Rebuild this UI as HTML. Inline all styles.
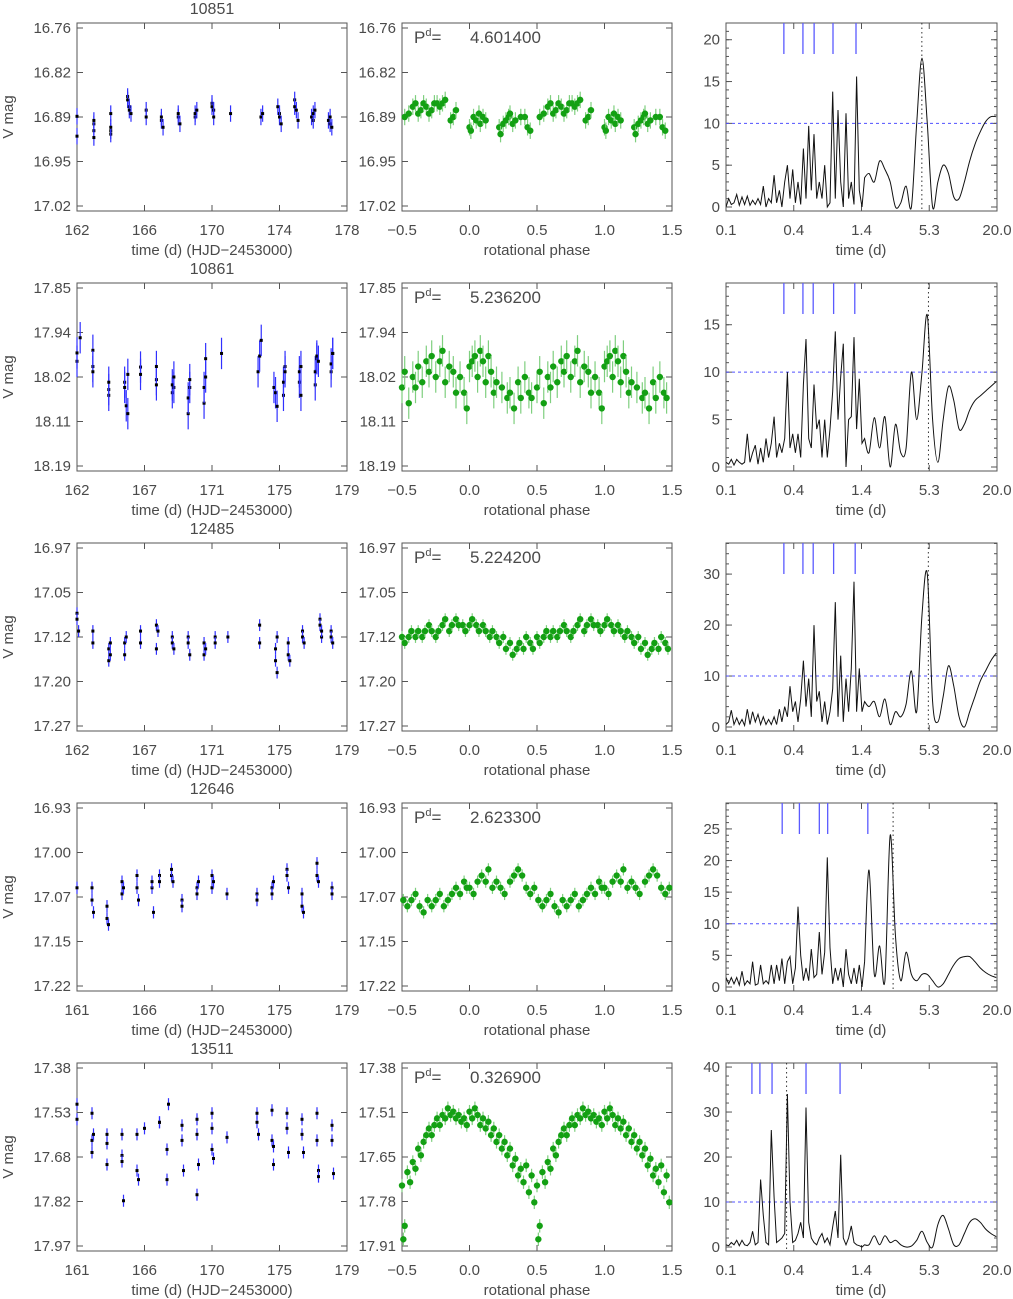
<!DOCTYPE html>
<html><head><meta charset="utf-8"><style>
html,body{margin:0;padding:0;background:#fff;}
svg{display:block;font-family:"Liberation Sans",sans-serif;}
</style></head><body>
<svg id="fig" width="1013" height="1299" viewBox="0 0 1013 1299" xmlns="http://www.w3.org/2000/svg"></svg>
<script>
// ---------- data ----------
const starIds = ["10851","10861","12485","12646","13511"];
const periods = [4.601400, 5.236200, 5.224200, 2.623300, 0.326900];
const periodLabels = ["4.601400","5.236200","5.224200","2.623300","0.326900"];
const timeRanges = [[162,178],[162,179],[162,179],[161,179],[161,179]];
const timeTicks = [["162","166","170","174","178"],["162","167","171","175","179"],["162","167","171","175","179"],["161","166","170","175","179"],["161","166","170","175","179"]];
const magRangesLc = [[16.76,17.02],[17.85,18.19],[16.97,17.27],[16.93,17.22],[17.38,17.97]];
const magTicksLc = [["16.76","16.82","16.89","16.95","17.02"],["17.85","17.94","18.02","18.11","18.19"],["16.97","17.05","17.12","17.20","17.27"],["16.93","17.00","17.07","17.15","17.22"],["17.38","17.53","17.68","17.82","17.97"]];
const magRangesPh = [[16.76,17.02],[17.85,18.19],[16.97,17.27],[16.93,17.22],[17.38,17.91]];
const magTicksPh = [["16.76","16.82","16.89","16.95","17.02"],["17.85","17.94","18.02","18.11","18.19"],["16.97","17.05","17.12","17.20","17.27"],["16.93","17.00","17.07","17.15","17.22"],["17.38","17.51","17.65","17.78","17.91"]];
const phaseTicks = ["-0.5","0.0","0.5","1.0","1.5"];
const errMag = [0.012,0.03,0.01,0.01,0.02];

const lcTime = [
[162,162,163,163,163,163,164,164,164,164,165,165,165.1,165.1,165.2,166.1,166.1,167,167,167.1,168,168,168.1,169,169,169.1,170,170,170.1,170.1,171.1,172.9,173,173.9,174,174,174.1,174.9,174.9,175,175.1,175.9,176,176,176.1,176.9,177,177,177.1],
[162,162,162.2,163,163,163,164,164,164,165,165,165.1,165.2,165.2,166,166,167,167,167,168,168,168.1,168.1,169,169,169.1,169.1,170,170,170.1,170.1,171.1,173.4,173.5,173.6,174.4,174.5,174.6,175,175,175.1,175.1,176,176,176.1,176.1,177,177,177.1,177.1,177.2,178,178,178.1,178.1],
[162,162,162.1,163,163,164,164,164.1,164.1,165,165,165.1,166,166,167,167,167.1,168,168,168.1,169,169,169.1,170,170,170.1,170.7,170.7,171.5,173.5,173.5,174.5,174.5,174.6,174.6,175.3,175.3,175.4,176.2,176.2,176.3,177.3,177.3,177.4,177.4,178,178,178.1],
[161,162,162,162.1,163,163,163.1,164,164,164.1,165,165,165.1,166,166,166.1,166.5,166.5,167.3,167.3,167.4,168,168,169,169,169.1,170,170,170.1,171,173,173,174,174,174.1,175,175,175.1,176,176,176.1,177,177,177.1,178,178],
[161,161,162,162,162,162.1,163,163,163,164,164,164,164.1,165,165,165.1,165.5,166.5,166.5,167,167,167.1,168,168,168.1,169,169,169,169.1,170,170,170,170.1,171,173,173,173.1,174,174,174.1,174.1,175,175,175.1,176,176,176.1,177,177,177.1,177.1,178,178,178.1]
];
const lcMag = [
[16.889,16.918,16.90,16.91,16.92,16.895,16.885,16.91,16.915,16.905,16.86,16.865,16.875,16.88,16.885,16.88,16.89,16.895,16.89,16.905,16.89,16.885,16.90,16.89,16.885,16.88,16.87,16.875,16.88,16.89,16.885,16.89,16.885,16.875,16.885,16.89,16.90,16.865,16.875,16.88,16.895,16.89,16.895,16.885,16.88,16.895,16.90,16.89,16.905],
[17.99,17.974,17.945,17.969,18.0,18.01,18.044,18.055,18.03,18.03,18.04,18.075,18.09,18.015,18.001,18.015,18.025,18.035,18.0,18.05,18.035,18.04,18.02,18.09,18.06,18.04,18.025,18.07,18.04,17.985,18.02,17.975,18.01,17.98,17.95,18.04,18.05,18.076,18.055,18.03,18.0,18.01,18.03,18.01,18.055,18.0,18.035,18.01,17.985,17.98,17.99,18.01,17.995,17.975,17.975],
[17.08,17.09,17.11,17.11,17.13,17.14,17.16,17.15,17.13,17.13,17.15,17.12,17.11,17.13,17.10,17.14,17.11,17.12,17.13,17.14,17.12,17.13,17.15,17.13,17.15,17.14,17.12,17.13,17.12,17.10,17.13,17.14,17.16,17.18,17.12,17.13,17.15,17.16,17.11,17.12,17.13,17.09,17.10,17.12,17.11,17.11,17.12,17.13],
[17.06,17.06,17.08,17.10,17.09,17.11,17.12,17.07,17.05,17.06,17.04,17.06,17.08,17.06,17.05,17.10,17.04,17.05,17.04,17.03,17.05,17.08,17.09,17.06,17.07,17.05,17.04,17.06,17.05,17.07,17.07,17.08,17.06,17.07,17.05,17.03,17.04,17.06,17.07,17.09,17.10,17.02,17.04,17.05,17.06,17.07],
[17.50,17.55,17.53,17.62,17.66,17.60,17.70,17.63,17.60,17.60,17.67,17.69,17.82,17.72,17.60,17.75,17.58,17.56,17.56,17.65,17.75,17.50,17.57,17.62,17.72,17.55,17.80,17.60,17.70,17.53,17.58,17.65,17.68,17.61,17.53,17.56,17.60,17.52,17.62,17.64,17.70,17.53,17.58,17.66,17.55,17.60,17.66,17.53,17.62,17.72,17.74,17.57,17.62,17.73]
];

const phPhase = [
[0.0,0.01,0.03,0.05,0.07,0.08,0.1,0.12,0.22,0.23,0.25,0.27,0.29,0.3,0.32,0.34,0.38,0.41,0.43,0.45,0.52,0.55,0.58,0.6,0.62,0.64,0.66,0.68,0.7,0.72,0.74,0.76,0.78,0.8,0.82,0.86,0.88,0.9],
[0.0,0.02,0.04,0.06,0.08,0.1,0.12,0.14,0.16,0.18,0.2,0.24,0.28,0.3,0.33,0.36,0.38,0.41,0.44,0.46,0.5,0.52,0.55,0.58,0.6,0.62,0.65,0.68,0.7,0.72,0.75,0.78,0.8,0.82,0.85,0.88,0.9,0.93,0.96,0.98],
[0.0,0.02,0.05,0.07,0.1,0.12,0.15,0.17,0.2,0.22,0.25,0.27,0.3,0.32,0.35,0.37,0.4,0.42,0.45,0.47,0.5,0.52,0.55,0.57,0.6,0.62,0.65,0.67,0.7,0.72,0.75,0.77,0.8,0.82,0.85,0.87,0.9,0.92,0.95,0.97],
[0.0,0.03,0.06,0.09,0.12,0.14,0.17,0.2,0.23,0.26,0.3,0.33,0.36,0.39,0.42,0.45,0.48,0.51,0.54,0.57,0.6,0.63,0.66,0.69,0.72,0.75,0.78,0.81,0.84,0.87,0.9,0.93,0.96,0.98],
[0.0,0.02,0.04,0.06,0.08,0.1,0.12,0.14,0.16,0.18,0.2,0.22,0.24,0.26,0.28,0.3,0.32,0.34,0.36,0.38,0.4,0.42,0.44,0.46,0.48,0.5,0.51,0.52,0.54,0.56,0.58,0.6,0.62,0.64,0.66,0.68,0.7,0.72,0.74,0.76,0.78,0.8,0.82,0.84,0.86,0.88,0.9,0.92,0.94,0.96,0.98]
];
const phMag = [
[16.905,16.91,16.89,16.895,16.885,16.9,16.89,16.895,16.905,16.915,16.9,16.895,16.89,16.885,16.9,16.895,16.89,16.89,16.905,16.91,16.89,16.885,16.875,16.87,16.885,16.88,16.87,16.875,16.885,16.88,16.87,16.87,16.875,16.87,16.865,16.895,16.89,16.88],
[18.0,17.99,17.98,18.02,17.97,17.99,18.03,17.98,18.01,18.05,18.03,18.04,18.06,18.05,18.08,18.03,18.06,18.02,18.05,18.06,18.04,18.01,18.07,18.02,18.04,18.0,18.03,17.99,18.01,17.98,18.02,17.99,17.97,18.03,18.0,18.01,18.05,18.02,18.05,18.08],
[17.1,17.09,17.1,17.11,17.1,17.11,17.12,17.11,17.12,17.13,17.12,17.14,17.13,17.15,17.14,17.13,17.14,17.12,17.13,17.14,17.12,17.13,17.12,17.11,17.12,17.11,17.12,17.11,17.1,17.11,17.12,17.11,17.1,17.09,17.11,17.1,17.09,17.1,17.1,17.11],
[17.06,17.07,17.05,17.04,17.05,17.03,17.06,17.05,17.06,17.07,17.05,17.04,17.03,17.04,17.06,17.07,17.06,17.08,17.09,17.08,17.07,17.09,17.1,17.08,17.09,17.08,17.07,17.09,17.08,17.07,17.06,17.07,17.05,17.06],
[17.51,17.53,17.5,17.52,17.55,17.53,17.56,17.54,17.58,17.56,17.6,17.58,17.62,17.6,17.64,17.62,17.67,17.65,17.7,17.68,17.72,17.67,17.75,17.7,17.78,17.73,17.89,17.85,17.69,17.72,17.66,17.68,17.62,17.64,17.6,17.58,17.56,17.58,17.55,17.53,17.55,17.52,17.53,17.5,17.52,17.51,17.53,17.52,17.54,17.53,17.55]
];

const pgLogPeriod = [-1.000,-0.977,-0.955,-0.932,-0.909,-0.887,-0.864,-0.842,-0.819,-0.796,-0.774,-0.751,-0.728,-0.706,-0.683,-0.660,-0.638,-0.615,-0.592,-0.570,-0.547,-0.525,-0.502,-0.479,-0.457,-0.434,-0.411,-0.389,-0.366,-0.343,-0.321,-0.298,-0.276,-0.253,-0.230,-0.208,-0.185,-0.162,-0.140,-0.117,-0.094,-0.072,-0.049,-0.026,-0.004,0.019,0.041,0.064,0.087,0.109,0.132,0.155,0.177,0.214,0.259,0.304,0.349,0.394,0.439,0.484,0.529,0.574,0.619,0.664,0.709,0.754,0.799,0.844,0.889,0.934,0.979,1.024,1.069,1.114,1.159,1.204,1.249,1.294];
const pgPower = [
[0,1,0.3,0.5,1.5,0.2,1.2,0.3,1.3,0.2,0.8,0.3,1,0.3,2.5,0,1,0.5,3.8,0.5,2,0,3,5,1,4.5,0.5,3,0.3,7,1,9.7,2,8.7,1,3,1,5,0,0.5,13.8,1,11.6,3,0,11.2,1,3,0.3,15.6,2,0,3.5,
 4,3,5.5,4.5,3,0,0.5,2.5,0,10,17.8,10,0,3,5,4,1.2,1,3,5.5,7.5,9,10.2,10.8,10.8],
[0.5,0.3,0.8,0.2,0.8,0.5,0.3,0.5,3.5,0.5,1.5,2.3,0.3,2,0.5,3,1,2.5,5.3,1,2.5,1.5,3,10,2,3.5,1.5,3.5,1,8.7,13.5,3,2,8.7,4,5,1,5,1,4,8,14.3,5,9.5,13,0,5,5.3,13.7,4,9.3,2.5,3,
 1.5,5.2,2,5.3,0,4.5,1.5,2,10,5,10,16,5,0.5,5,8.5,7,4,4.5,6,7,7.5,8,8.5,9],
[0.5,1,3.3,0.5,1.8,0.5,1.5,0.3,3.5,0.5,3,1,2.5,0.5,2,0.5,1.5,0.5,2,0.5,3.5,1,4,2,8,3,5,1,5.5,13,4,9.5,2,20,5,7,1,5,0.5,3,7.5,24.5,2,14,1,9.5,3,11.5,28.5,3,11.5,3,5,
 4,5,2,5.5,0.5,3,2,4.5,11,3,22,30,5,1,6,12,8,2,0,3,6,9,11,13,14.5],
[1.5,0.5,1.5,0.5,1.5,0.3,2.5,0.3,1,0.5,4,0.3,0.5,3.5,0.5,1,0.5,3.5,0.5,3.5,1,4.5,0.5,4,4.8,0.5,3,12.7,5,1,3,1,6,1.5,2,8.7,2,5.5,20.5,6.2,0.5,3,1,3,0,6,2,0.5,3,0.5,3.5,0,4,
 18.5,2,6.5,1,24,8,1,5.5,2,1,2,2,1,0,0.5,2,3.5,4.5,4.8,4.8,4,3,2.3,1.8,1.5],
[0.5,0.3,1,0.5,1.5,0.3,1.5,0.5,0.3,1,3.5,0.5,1,15,7,1,0.5,26,11,1,1.5,2,3,34,10,1,1.5,3,5.5,2,31,5.5,2,1,0.5,2,3,1,2,0.5,4.5,8,2,20.5,2,0.5,2,4.7,1,0.5,0.3,0,0.5,
 0.5,2.5,0.5,2.5,1,1.5,0.5,0,0.2,1.5,3.5,1,0,5,7,4,0.5,0.5,3,5.5,6.3,5.5,4,3,2.3]
];
const pgMax = [22,19.4,36.1,29.1,40.9];
const pgTicks = [[0,5,10,15,20],[0,5,10,15],[0,10,20,30],[0,5,10,15,20,25],[0,10,20,30,40]];
const pgXTicks = ["0.1","0.4","1.4","5.3","20.0"];
const alarmPeriods = [[0.31,0.45,0.56,0.81,1.27],[0.31,0.45,0.55,0.82,1.24],[0.31,0.45,0.55,0.82,1.25],[0.30,0.42,0.62,0.73,1.6],[0.166,0.194,0.246,0.478,0.93]];
const fapLevel = 10;

// ---------- drawing ----------
const svg = document.getElementById('fig');
const NS = 'http://www.w3.org/2000/svg';
const TXT = '#4a4a4a';
function el(tag, attrs, parent) {
  const e = document.createElementNS(NS, tag);
  for (const k in attrs) e.setAttribute(k, attrs[k]);
  (parent || svg).appendChild(e);
  return e;
}
function text(str, x, y, anchor, size, parent) {
  const t = el('text', {x:x, y:y, 'text-anchor':anchor, 'font-size':size, fill:TXT}, parent);
  t.textContent = str;
  return t;
}
const COLS = [[77,347],[402,672],[726,997]];
const TOP = 23, BOT = 211, ROWH = 260;

function frame(g, L, R, T, B, nx) {
  el('rect', {x:L, y:T, width:R-L, height:B-T, fill:'none', stroke:'#555', 'stroke-width':1}, g);
  for (let i = 0; i < nx; i++) {
    const x = L + (R-L)*i/(nx-1);
    el('line', {x1:x, y1:B, x2:x, y2:B-6, stroke:'#555'}, g);
    el('line', {x1:x, y1:T, x2:x, y2:T+6, stroke:'#555'}, g);
  }
}

const defs = el('defs', {});
for (let r = 0; r < 5; r++) {
  const cp = el('clipPath', {id:'clip' + r}, defs);
  el('rect', {x:COLS[2][0], y:TOP + r*ROWH, width:COLS[2][1]-COLS[2][0], height:BOT-TOP}, cp);
}

for (let r = 0; r < 5; r++) {
  const oy = r*ROWH, T = TOP+oy, B = BOT+oy;
  const row = el('g', {});
  
  

  // ---- column 1: light curve ----
  {
    const [L,R] = COLS[0];
    const g = el('g', {}, row);
    
    
    const [t0,t1] = timeRanges[r], [m0,m1] = magRangesLc[r];
    const yTop = T+5, yBot = B-5;
    const sx = t => L + (t-t0)/(t1-t0)*(R-L);
    const sy = m => yTop + (m-m0)/(m1-m0)*(yBot-yTop);
    frame(g, L, R, T, B, 5);
    magTicksLc[r].forEach((lab, i) => {
      const y = yTop + (yBot-yTop)*i/4;
      el('line', {x1:L, y1:y, x2:L+6, y2:y, stroke:'#555'}, g);
      el('line', {x1:R, y1:y, x2:R-6, y2:y, stroke:'#555'}, g);
      const tl = text(lab, L-6, y+5, 'end', 15, g);
      
      
    });
    timeTicks[r].forEach((lab, i) => {
      const tl = text(lab, L+(R-L)*i/4, B+24, 'middle', 15, g);
      
      
    });
    const xl = text('time (d) (HJD\u22122453000)', 212, B+44, 'middle', 15, g);
    
    
    const yl = text('V mag', 0, 0, 'middle', 15, g);
    yl.setAttribute('transform', 'translate(13,' + (oy+117) + ') rotate(-90)');
    
    
    const ti = text(starIds[r], 212, oy+14, 'middle', 16, g);
    
    
    lcTime[r].forEach((t, i) => {
      const x = sx(t), y = sy(lcMag[r][i]), e = errMag[r];
      const bar = el('line', {x1:x, y1:sy(lcMag[r][i]-e), x2:x, y2:sy(lcMag[r][i]+e), stroke:'#3030ff', 'stroke-width':1.2}, g);
      
      
      const d = el('rect', {x:x-1.5, y:y-1.5, width:3, height:3, fill:'#000'}, g);
      
      
    });
  }

  // ---- column 2: phased light curve ----
  {
    const [L,R] = COLS[1];
    const g = el('g', {}, row);
    
    
    const [m0,m1] = magRangesPh[r];
    const yTop = T+5, yBot = B-5;
    const sx = p => L + (p+0.5)/2*(R-L);
    const sy = m => yTop + (m-m0)/(m1-m0)*(yBot-yTop);
    frame(g, L, R, T, B, 5);
    magTicksPh[r].forEach((lab, i) => {
      const y = yTop + (yBot-yTop)*i/4;
      el('line', {x1:L, y1:y, x2:L+6, y2:y, stroke:'#555'}, g);
      el('line', {x1:R, y1:y, x2:R-6, y2:y, stroke:'#555'}, g);
      const tl = text(lab, L-6, y+5, 'end', 15, g);
      
      
    });
    phaseTicks.forEach((lab, i) => {
      const tl = text(lab.replace('-', '\u2212'), L+(R-L)*i/4, B+24, 'middle', 15, g);
      
      
    });
    const xl = text('rotational phase', 537, B+44, 'middle', 15, g);
    
    
    const pt = el('text', {x:414, y:T+20, 'font-size':17, fill:TXT}, g);
    pt.innerHTML = 'P<tspan dy="-7" font-size="11">d</tspan><tspan dy="7">=</tspan>';
    
    
    const pv = text(periodLabels[r], 470, T+20, 'start', 17, g);
    
    
    phPhase[r].forEach((p, i) => {
      const reps = [p, p < 0.5 ? p+1 : p-1];
      reps.forEach(pp => {
        const x = sx(pp), m = phMag[r][i], e = errMag[r];
        const bar = el('line', {x1:x, y1:sy(m-e), x2:x, y2:sy(m+e), stroke:'#7fcf7f', 'stroke-width':1.2}, g);
        
        
        const c = el('circle', {cx:x, cy:sy(m), r:3.2, fill:'#13a013'}, g);
        
        
      });
    });
  }

  // ---- column 3: periodogram ----
  {
    const [L,R] = COLS[2];
    const g = el('g', {}, row);
    
    
    const zeroY = B-4;
    const sx = lp => L + (lp+1)/2.301*(R-L);
    const sy = v => zeroY - v/pgMax[r]*(zeroY-T);
    frame(g, L, R, T, B, 5);
    for (let v = 0; v <= pgMax[r]; v += (pgTicks[r][1]-pgTicks[r][0])/5) {
      const y = sy(v);
      el('line', {x1:L, y1:y, x2:L+3, y2:y, stroke:'#555'}, g);
      el('line', {x1:R, y1:y, x2:R-3, y2:y, stroke:'#555'}, g);
    }
    pgTicks[r].forEach(v => {
      const y = sy(v);
      el('line', {x1:L, y1:y, x2:L+6, y2:y, stroke:'#555'}, g);
      el('line', {x1:R, y1:y, x2:R-6, y2:y, stroke:'#555'}, g);
      const tl = text(String(v), L-6, y+5, 'end', 15, g);
      
      
    });
    pgXTicks.forEach((lab, i) => {
      const tl = text(lab, L+(R-L)*i/4, B+24, 'middle', 15, g);
      
      
    });
    const xl = text('time (d)', 861, B+44, 'middle', 15, g);
    
    
    const fap = el('line', {x1:L, y1:sy(fapLevel), x2:R, y2:sy(fapLevel), stroke:'#5050ff', 'stroke-dasharray':'3,3'}, g);
    
    
    const px = sx(Math.log10(periods[r]));
    const pl = el('line', {x1:px, y1:T, x2:px, y2:B, stroke:'#333', 'stroke-dasharray':'1.5,3'}, g);
    
    
    alarmPeriods[r].forEach(p => {
      const ax = sx(Math.log10(p));
      const al = el('line', {x1:ax, y1:T, x2:ax, y2:T+31, stroke:'#5a5aff', 'stroke-width':1.3}, g);
      
      
    });
    // jagged part as straight segments, smooth long-period part as Catmull-Rom spline
    const P = pgLogPeriod.map((lp, i) => [sx(lp), sy(pgPower[r][i])]);
    const split = 52;
    let d = 'M' + P[0][0].toFixed(1) + ',' + P[0][1].toFixed(1);
    for (let i = 1; i <= split; i++) d += ' L' + P[i][0].toFixed(1) + ',' + P[i][1].toFixed(1);
    for (let i = split; i < P.length-1; i++) {
      const p0 = P[Math.max(i-1, split)], p1 = P[i], p2 = P[i+1], p3 = P[Math.min(i+2, P.length-1)];
      const c1x = p1[0] + (p2[0]-p0[0])/6, c1y = p1[1] + (p2[1]-p0[1])/6;
      const c2x = p2[0] - (p3[0]-p1[0])/6, c2y = p2[1] - (p3[1]-p1[1])/6;
      d += ' C' + c1x.toFixed(1) + ',' + c1y.toFixed(1) + ' ' + c2x.toFixed(1) + ',' + c2y.toFixed(1) + ' ' + p2[0].toFixed(1) + ',' + p2[1].toFixed(1);
    }
    const line = el('path', {d:d, fill:'none', stroke:'#111', 'stroke-width':1, 'clip-path':'url(#clip' + r + ')'}, g);
    
    
  }
}
</script>
</body></html>
